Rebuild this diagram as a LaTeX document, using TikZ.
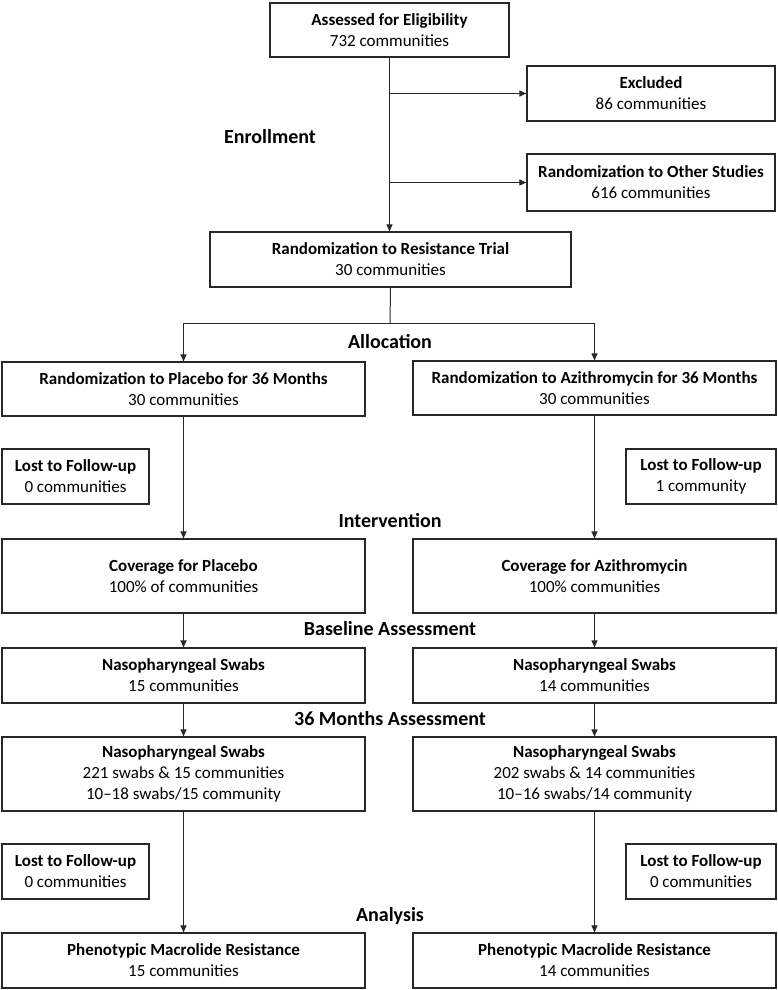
\documentclass[tikz,border=0pt]{standalone}
\usepackage{fontspec}
\setmainfont{Carlito}
\usepackage{tikz}
\definecolor{Frame}{RGB}{40,40,40}
\usetikzlibrary{arrows.meta}

\begin{document}
\begin{tikzpicture}[x=1pt, y=-1pt,
    box/.style={draw=Frame, line width=1.1pt, fill=white, align=center,
                inner sep=0pt, font=\fontsize{17}{21}\selectfont},
    phase/.style={font=\fontsize{20}{24}\selectfont\bfseries},
    flow/.style={draw=Frame, line width=1pt, -{Triangle[length=7pt,width=6pt]}},
    link/.style={draw=Frame, line width=1pt}]
    \useasboundingbox (0,0) rectangle (777,990);

    % enrollment
    \node [box, minimum width=239, minimum height=54] (elig) at (389.5,30)
        {\textbf{Assessed for Eligibility}\\732 communities};
    \node [box, minimum width=248, minimum height=55] (excl) at (651,93.5)
        {\textbf{Excluded}\\86 communities};
    \node [box, minimum width=248, minimum height=57] (other) at (651,182.5)
        {\textbf{Randomization to Other Studies}\\616 communities};
    \node [box, minimum width=361, minimum height=55] (trial) at (390.5,259.5)
        {\textbf{Randomization to Resistance Trial}\\30 communities};
    \node [phase] (enroll) at (270,137) {Enrollment};

    % allocation
    \node [box, minimum width=363, minimum height=54] (plac) at (183.5,389)
        {\textbf{Randomization to Placebo for 36 Months}\\30 communities};
    \node [box, minimum width=363, minimum height=54] (azi) at (594.5,388)
        {\textbf{Randomization to Azithromycin for 36 Months}\\30 communities};
    \node [box, minimum width=147, minimum height=55] (lostA) at (75.5,476.5)
        {\textbf{Lost to Follow-up}\\0 communities};
    \node [box, minimum width=150, minimum height=55] (lostB) at (701,476.5)
        {\textbf{Lost to Follow-up}\\1 community};
    \node [phase] (alloc) at (390,342) {Allocation};

    % intervention
    \node [box, minimum width=363, minimum height=74] (covA) at (183.5,576)
        {\textbf{Coverage for Placebo}\\100\% of communities};
    \node [box, minimum width=363, minimum height=74] (covB) at (594.5,576)
        {\textbf{Coverage for Azithromycin}\\100\% communities};
    \node [phase] (interv) at (390,521) {Intervention};

    % assessments
    \node [box, minimum width=363, minimum height=55] (nasoA) at (183.5,675.5)
        {\textbf{Nasopharyngeal Swabs}\\15 communities};
    \node [box, minimum width=363, minimum height=55] (nasoB) at (594.5,675.5)
        {\textbf{Nasopharyngeal Swabs}\\14 communities};
    \node [phase] (base) at (390,629) {Baseline Assessment};
    \node [box, minimum width=363, minimum height=74] (swabA) at (183.5,774)
        {\textbf{Nasopharyngeal Swabs}\\221 swabs \& 15 communities\\10--18 swabs/15 community};
    \node [box, minimum width=363, minimum height=74] (swabB) at (594.5,774)
        {\textbf{Nasopharyngeal Swabs}\\202 swabs \& 14 communities\\10--16 swabs/14 community};
    \node [phase] (month) at (390,719) {36 Months Assessment};

    % analysis
    \node [box, minimum width=147, minimum height=55] (lostC) at (75.5,871.5)
        {\textbf{Lost to Follow-up}\\0 communities};
    \node [box, minimum width=150, minimum height=55] (lostD) at (701,871.5)
        {\textbf{Lost to Follow-up}\\0 communities};
    \node [box, minimum width=363, minimum height=55] (phenA) at (183.5,960.5)
        {\textbf{Phenotypic Macrolide Resistance}\\15 communities};
    \node [box, minimum width=363, minimum height=55] (phenB) at (594.5,960.5)
        {\textbf{Phenotypic Macrolide Resistance}\\14 communities};
    \node [phase] (anal) at (390,916) {Analysis};

    % connectors
    \coordinate (exclJoin) at (elig.south |- excl.west);
    \coordinate (otherJoin) at (elig.south |- other.west);
    \coordinate (split) at (390,323);
    \draw [flow] (elig.south) -- (elig.south |- trial.north);
    \draw [flow] (exclJoin) -- (excl.west);
    \draw [flow] (otherJoin) -- (other.west);
    \draw [link] (trial.south) -- (split);
    \draw [flow] (split) -| (plac.north);
    \draw [flow] (split) -| (azi.north);
    \draw [flow] (plac.south) -- (covA.north);
    \draw [flow] (azi.south) -- (covB.north);
    \draw [flow] (covA.south) -- (nasoA.north);
    \draw [flow] (covB.south) -- (nasoB.north);
    \draw [flow] (nasoA.south) -- (swabA.north);
    \draw [flow] (nasoB.south) -- (swabB.north);
    \draw [flow] (swabA.south) -- (phenA.north);
    \draw [flow] (swabB.south) -- (phenB.north);
\end{tikzpicture}
\end{document}
